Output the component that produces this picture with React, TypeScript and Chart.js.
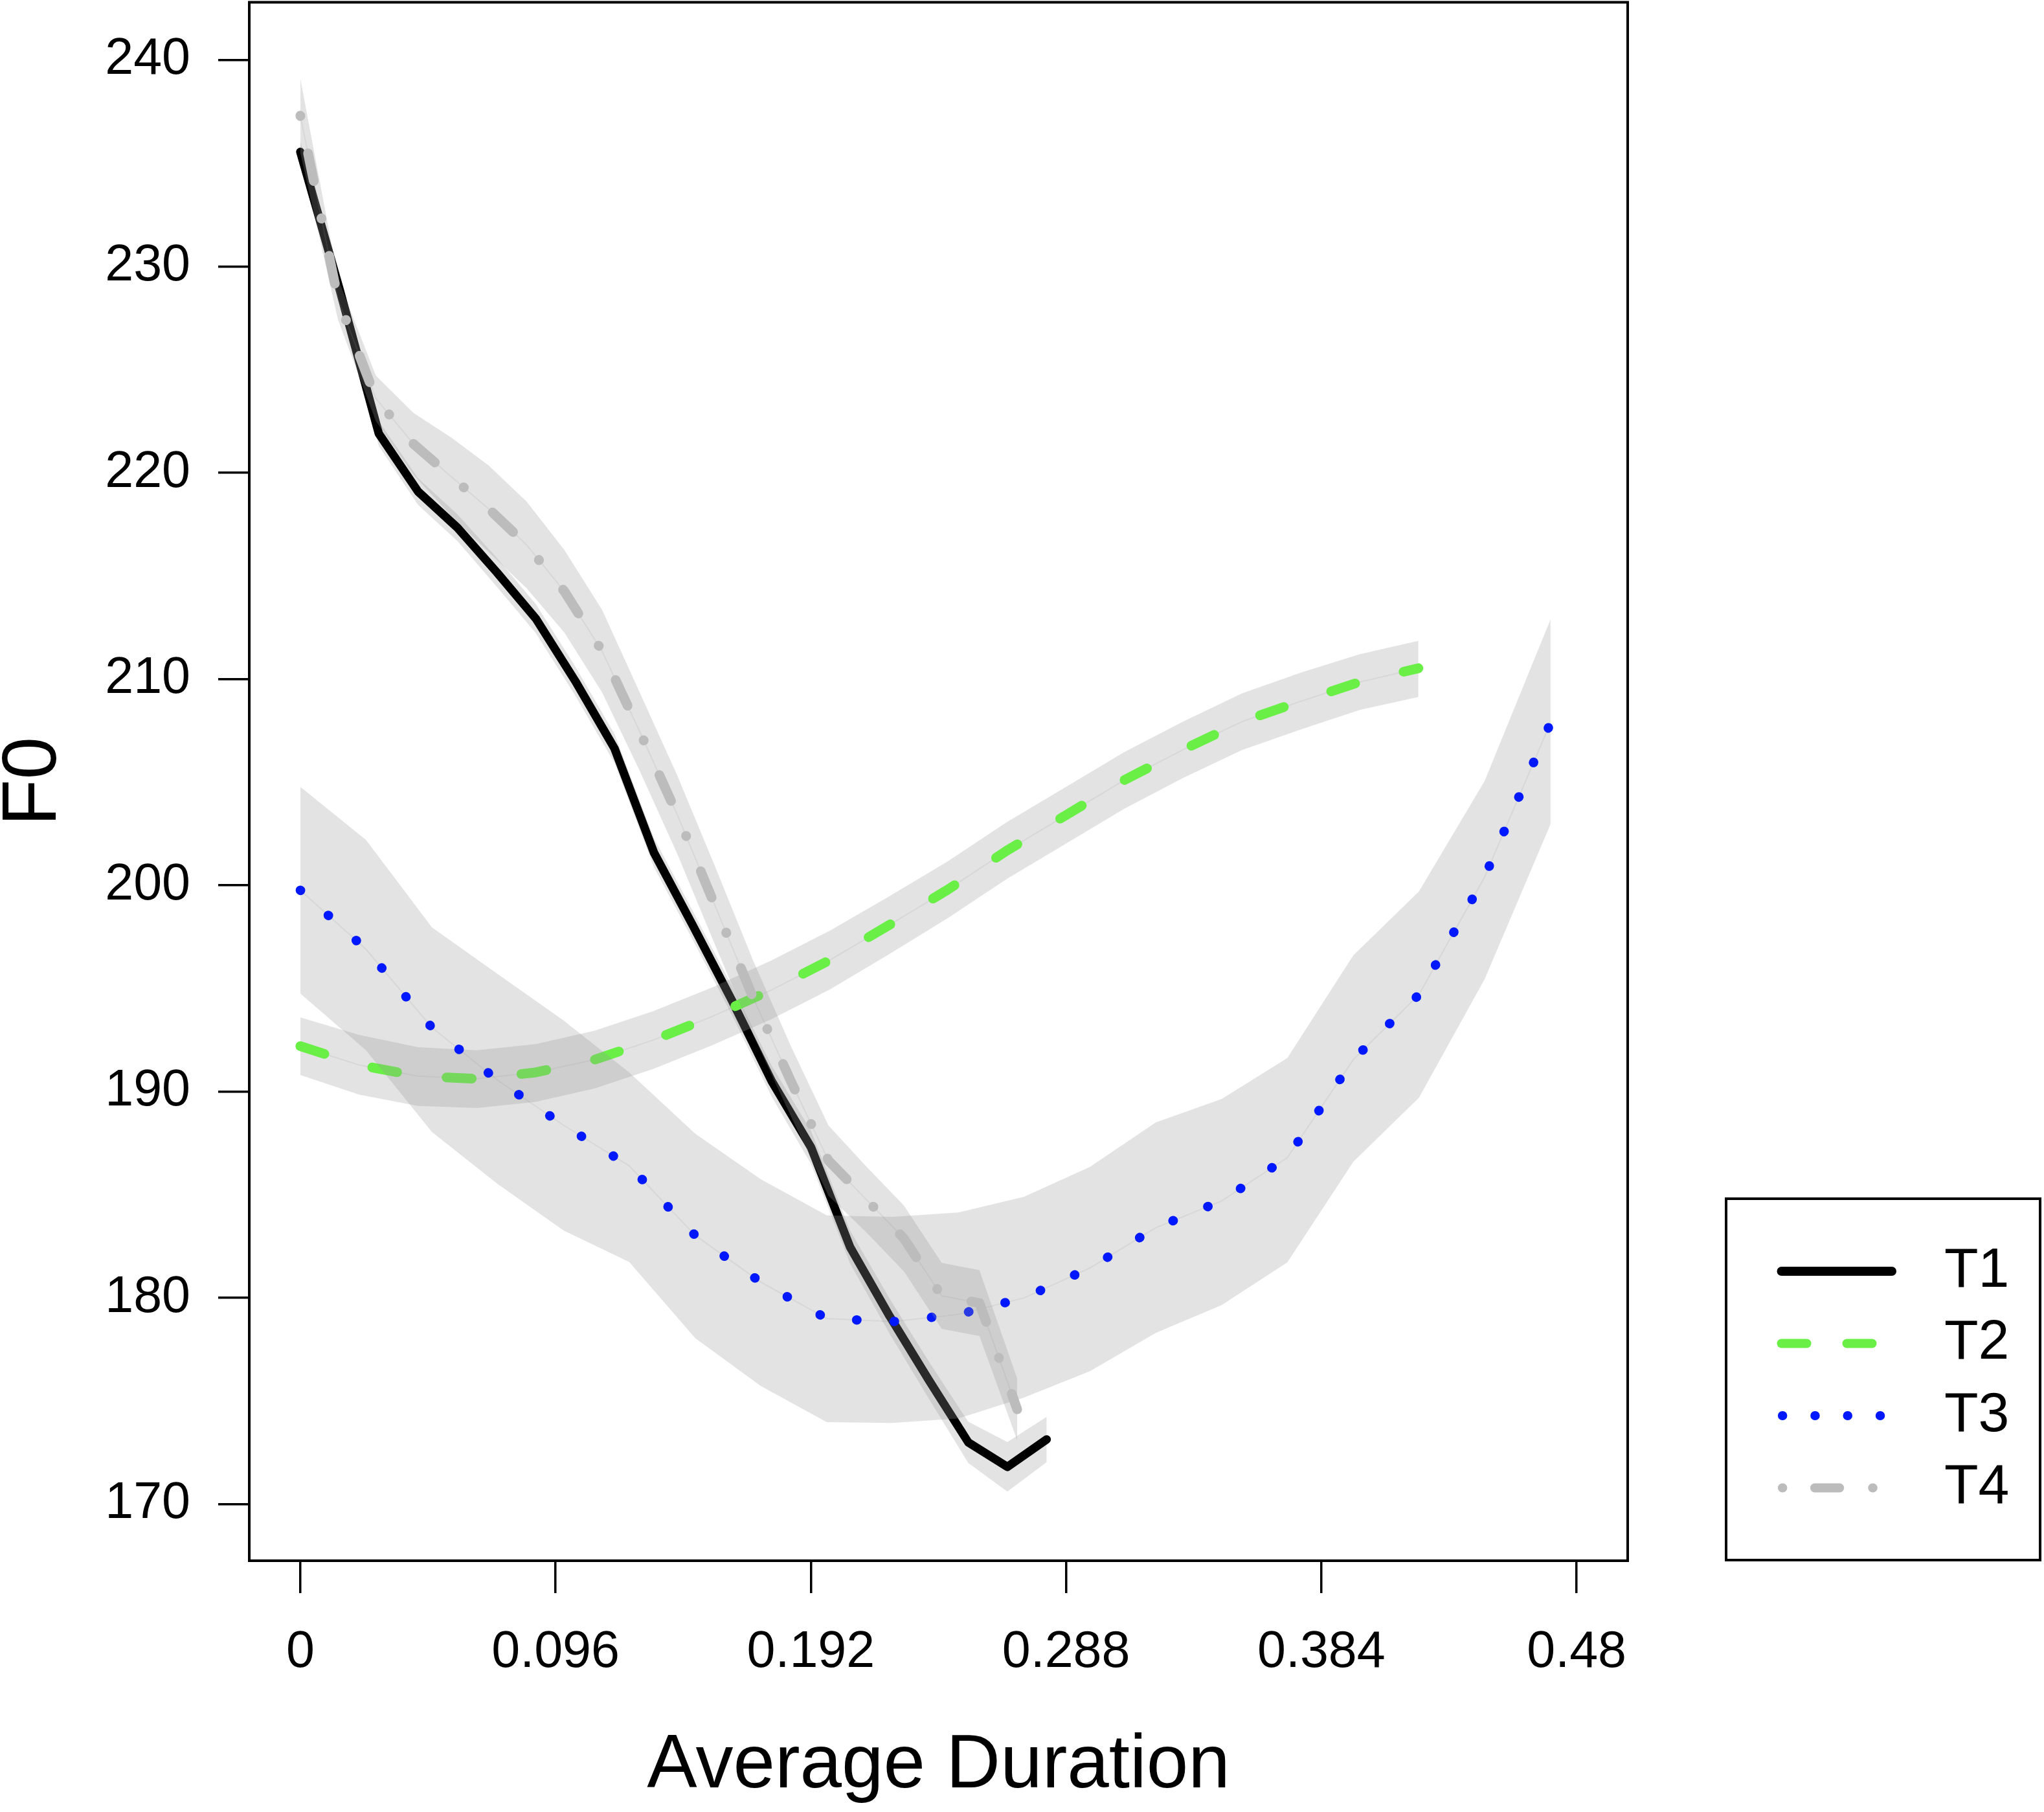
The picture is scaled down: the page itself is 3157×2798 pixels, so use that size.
import { useEffect, useRef } from "react"
import { Chart, registerables } from "chart.js"

Chart.register(...registerables)
Chart.defaults.font.family = "'Liberation Sans', Arial, Helvetica, sans-serif"

const W = 3157
const H = 2798

// time points (normalised to the average duration of each tone)
const xT1 = [0, 0.0148, 0.0295, 0.0443, 0.0591, 0.0739, 0.0886, 0.1034, 0.1182, 0.133, 0.1477, 0.1625, 0.1773, 0.1921, 0.2068, 0.2216, 0.2364, 0.2512, 0.2659, 0.2807]
const xT2 = [0, 0.0221, 0.0443, 0.0664, 0.0885, 0.1107, 0.1328, 0.1549, 0.1771, 0.1992, 0.2213, 0.2434, 0.2656, 0.2877, 0.3098, 0.332, 0.3541, 0.3762, 0.3984, 0.4205]
const xT3 = [0, 0.0247, 0.0495, 0.0742, 0.099, 0.1237, 0.1485, 0.1732, 0.198, 0.2227, 0.2475, 0.2722, 0.297, 0.3217, 0.3465, 0.3712, 0.396, 0.4207, 0.4454, 0.4702]
const xT4 = [0, 0.0142, 0.0284, 0.0426, 0.0568, 0.0709, 0.0851, 0.0993, 0.1135, 0.1277, 0.1419, 0.1561, 0.1703, 0.1845, 0.1986, 0.2128, 0.227, 0.2412, 0.2554, 0.2696]

// F0 means and confidence bands
const t1Mean = [235.55, 228.87, 221.9, 219.08, 217.33, 215.17, 212.92, 209.9, 206.62, 201.58, 198.03, 194.37, 190.5, 187.29, 182.45, 179.12, 176.01, 173.0, 171.81, 173.14]
const t1Upper = [236.05, 229.42, 222.5, 219.73, 217.98, 215.87, 213.62, 210.6, 207.32, 202.28, 198.73, 195.07, 191.25, 188.09, 183.25, 179.97, 176.91, 174.0, 173.01, 174.24]
const t1Lower = [235.05, 228.32, 221.3, 218.43, 216.68, 214.47, 212.22, 209.2, 205.92, 200.88, 197.33, 193.67, 189.75, 186.49, 181.65, 178.27, 175.11, 172.0, 170.61, 172.04]

const t2Mean = [192.2, 191.29, 190.75, 190.62, 190.93, 191.55, 192.5, 193.64, 194.92, 196.38, 198.06, 199.78, 201.67, 203.38, 205.09, 206.57, 207.93, 208.92, 209.85, 210.52]
const t2Upper = [193.6, 192.75, 192.15, 192.0, 192.3, 192.95, 193.9, 195.05, 196.35, 197.8, 199.45, 201.15, 203.05, 204.75, 206.45, 207.93, 209.3, 210.3, 211.2, 211.85]
const t2Lower = [190.8, 189.85, 189.3, 189.2, 189.5, 190.15, 191.1, 192.25, 193.5, 194.95, 196.65, 198.4, 200.3, 202.0, 203.7, 205.2, 206.55, 207.55, 208.5, 209.13]

const t3Mean = [199.76, 196.9, 193.1, 190.55, 188.37, 186.4, 183.03, 180.76, 179.0, 178.85, 179.2, 180.0, 181.45, 183.4, 184.7, 186.8, 191.55, 194.7, 200.4, 207.88]
const t3Upper = [204.77, 202.2, 197.96, 195.7, 193.45, 190.93, 187.96, 185.75, 184.0, 183.93, 184.14, 184.9, 186.35, 188.5, 189.64, 191.63, 196.6, 199.7, 205.05, 212.89]
const t3Lower = [194.75, 192.0, 188.04, 185.52, 183.27, 181.74, 178.05, 175.73, 173.98, 173.94, 174.16, 175.17, 176.45, 178.3, 179.65, 181.72, 186.6, 189.7, 195.45, 202.97]

const t4Mean = [237.3, 228.4, 223.6, 221.39, 219.8, 218.24, 216.5, 214.25, 211.35, 207.43, 203.38, 198.97, 194.55, 190.5, 186.66, 184.78, 182.88, 180.1, 179.75, 174.6]
const t4Upper = [239.1, 229.4, 224.7, 222.89, 221.7, 220.34, 218.6, 216.25, 213.35, 209.33, 205.28, 200.87, 196.35, 192.2, 188.36, 186.38, 184.48, 181.7, 181.35, 176.1]
const t4Lower = [235.5, 227.4, 222.5, 219.89, 217.9, 216.14, 214.4, 212.25, 209.35, 205.53, 201.48, 197.07, 192.75, 188.8, 184.96, 183.18, 181.28, 178.5, 178.15, 173.1]

const xTickValues = [0, 0.096, 0.192, 0.288, 0.384, 0.48]
const xTickLabels = ["0", "0.096", "0.192", "0.288", "0.384", "0.48"]
const yTickValues = [170, 180, 190, 200, 210, 220, 230, 240]
const yTickLabels = ["170", "180", "190", "200", "210", "220", "230", "240"]

const seriesNames = ["T1", "T2", "T3", "T4"]

const BAND = "rgba(150,150,150,0.27)"
const MID = "rgba(150,150,150,0.16)"

interface LineStyle {
  color: string
  width: number
  dash: number[]
  legendDash: number[]
  legendStart: number
}

const styles: LineStyle[] = [
  { color: "#000000", width: 13, dash: [], legendDash: [], legendStart: 2751.5 },
  { color: "#69ef46", width: 15, dash: [39, 77], legendDash: [39, 62], legendStart: 2751.5 },
  { color: "#0018ff", width: 14.5, dash: [0.5, 57.5], legendDash: [0.5, 49.8], legendStart: 2752.9 },
  { color: "#bcbcbc", width: 15, dash: [0.5, 58.7, 43.8, 58.7], legendDash: [0.5, 49.5, 38.3, 51.1], legendStart: 2752.9 },
]

function pts(xs: number[], ys: number[]) {
  return xs.map((x, i) => ({ x, y: ys[i] }))
}

function tone(xs: number[], mean: number[], upper: number[], lower: number[], s: LineStyle, order: number) {
  return [
    { data: pts(xs, upper), borderWidth: 0, pointRadius: 0, fill: "+1", backgroundColor: BAND, order: order + 3 },
    { data: pts(xs, lower), borderWidth: 0, pointRadius: 0, fill: false, order: order + 2 },
    { data: pts(xs, mean), borderWidth: 2, borderColor: MID, pointRadius: 0, fill: false, order: order + 1 },
    {
      data: pts(xs, mean),
      borderColor: s.color,
      borderWidth: s.width,
      borderDash: s.dash,
      borderCapStyle: "round",
      borderJoinStyle: "round",
      pointRadius: 0,
      fill: false,
      order,
    },
  ]
}

const frameAndLegend = {
  id: "frameAndLegend",
  afterDraw(chart: any) {
    const c = chart.ctx as CanvasRenderingContext2D
    const a = chart.chartArea
    c.save()
    c.strokeStyle = "#000"
    c.lineWidth = 4
    c.strokeRect(a.left, a.top, a.right - a.left, a.bottom - a.top)

    // legend box
    c.strokeRect(2666, 1851, 485, 558)
    const rows = [1963, 2074.5, 2186, 2297.5]
    styles.forEach((s, i) => {
      c.beginPath()
      c.strokeStyle = s.color
      c.lineWidth = 14
      c.lineCap = "round"
      c.setLineDash(s.legendDash)
      c.lineDashOffset = 0
      c.moveTo(s.legendStart, rows[i])
      c.lineTo(s.dash.length ? 2928 : 2922, rows[i])
      c.stroke()
      c.setLineDash([])
      c.fillStyle = "#000"
      c.font = "86px 'Liberation Sans', Arial, sans-serif"
      c.textAlign = "left"
      c.textBaseline = "middle"
      c.fillText(seriesNames[i], 3003, rows[i])
    })
    c.restore()
  },
}

export default function App() {
  const canvasRef = useRef<HTMLCanvasElement | null>(null)
  const chartRef = useRef<Chart | null>(null)

  useEffect(() => {
    if (!canvasRef.current) return
    if (chartRef.current) chartRef.current.destroy()
    const ctx = canvasRef.current.getContext("2d")
    if (!ctx) return

    const datasets: any[] = [
      ...tone(xT1, t1Mean, t1Upper, t1Lower, styles[0], 13),
      ...tone(xT2, t2Mean, t2Upper, t2Lower, styles[1], 9),
      ...tone(xT3, t3Mean, t3Upper, t3Lower, styles[2], 5),
      ...tone(xT4, t4Mean, t4Upper, t4Lower, styles[3], 1),
    ]

    chartRef.current = new Chart(ctx, {
      type: "line",
      data: { datasets },
      plugins: [frameAndLegend],
      options: {
        responsive: false,
        animation: false,
        devicePixelRatio: 1,
        layout: { padding: { top: 3.5, right: 643, bottom: 0, left: 0 } },
        plugins: { legend: { display: false }, tooltip: { enabled: false } },
        elements: { point: { radius: 0 }, line: { tension: 0 } },
        scales: {
          x: {
            type: "linear",
            min: -0.0192,
            max: 0.4992,
            afterBuildTicks: (scale: any) => {
              scale.ticks = xTickValues.map((v) => ({ value: v }))
            },
            afterFit: (scale: any) => {
              scale.height = 388
              scale.paddingLeft = 0
              scale.paddingRight = 0
            },
            ticks: {
              autoSkip: false,
              maxRotation: 0,
              padding: 52.5,
              color: "#000",
              font: { size: 79, lineHeight: 1 },
              callback: (v: any) => xTickLabels[xTickValues.indexOf(Number(v))],
            },
            grid: { drawOnChartArea: false, drawTicks: true, tickLength: 50, color: "#000", lineWidth: 3.5 },
            border: { display: false },
            title: {
              display: true,
              text: "Average Duration",
              color: "#000",
              font: { size: 116, lineHeight: 1 },
              padding: { top: 0, bottom: 12 },
            },
          },
          y: {
            type: "linear",
            min: 167.26,
            max: 242.8,
            afterBuildTicks: (scale: any) => {
              scale.ticks = yTickValues.map((v) => ({ value: v }))
            },
            afterFit: (scale: any) => {
              scale.width = 385
              scale.paddingTop = 0
              scale.paddingBottom = 0
            },
            ticks: {
              autoSkip: false,
              padding: 43,
              color: "#000",
              font: { size: 79, lineHeight: 1 },
              callback: (v: any) => yTickLabels[yTickValues.indexOf(Number(v))],
            },
            grid: { drawOnChartArea: false, drawTicks: true, tickLength: 48, color: "#000", lineWidth: 3.5 },
            border: { display: false },
            title: {
              display: true,
              text: "F0",
              color: "#000",
              font: { size: 118, lineHeight: 0.8 },
              padding: { top: 6, bottom: 0 },
            },
          },
        },
      } as any,
    })

    return () => {
      if (chartRef.current) {
        chartRef.current.destroy()
        chartRef.current = null
      }
    }
  }, [])

  return (
    <div style={{ position: "absolute", left: 0, top: 0, width: W, height: H, background: "#fff" }}>
      <canvas ref={canvasRef} width={W} height={H} style={{ display: "block", width: W, height: H }} />
    </div>
  )
}
